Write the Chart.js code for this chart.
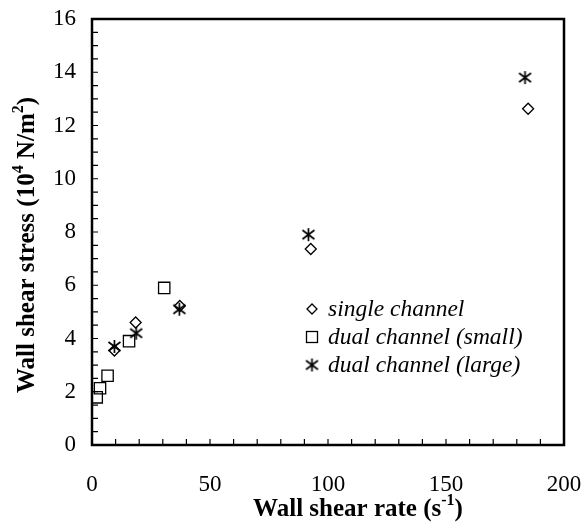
<!DOCTYPE html>
<html>
<head>
<meta charset="utf-8">
<script src="https://cdn.jsdelivr.net/npm/chart.js@4/dist/chart.umd.min.js"></script>
<style>
  html, body { margin: 0; padding: 0; background: #fff; }
  #wrap { width: 583px; height: 524px; }
</style>
</head>
<body>
<div id="wrap"><canvas id="shearChart" width="583" height="524"></canvas></div>
<script>
// data
const seriesNames = ['single channel', 'dual channel (small)', 'dual channel (large)'];
const singleRate = [9.5, 18.5, 37.2, 92.7, 184.8];
const singleStress = [3.55, 4.6, 5.22, 7.36, 12.63];
const smallRate = [2.0, 3.4, 6.6, 15.7, 30.6];
const smallStress = [1.79, 2.13, 2.6, 3.9, 5.9];
const largeRate = [9.5, 18.7, 37.0, 91.7, 183.5];
const largeStress = [3.7, 4.2, 5.1, 7.9, 13.8];
const xTicks = [0, 50, 100, 150, 200];
const yTicks = [0, 2, 4, 6, 8, 10, 12, 14, 16];

const serif = "'Liberation Serif', 'Times New Roman', serif";

// asterisk marker (vertical bar + X), as in the figure
const starMark = (() => {
  const c = document.createElement('canvas');
  c.width = 15; c.height = 15;
  const g = c.getContext('2d');
  g.strokeStyle = '#000';
  g.lineWidth = 1.7;
  g.beginPath();
  g.moveTo(7.5, 1); g.lineTo(7.5, 14);
  g.moveTo(1.5, 3); g.lineTo(13.5, 12);
  g.moveTo(13.5, 3); g.lineTo(1.5, 12);
  g.stroke();
  return c;
})();

const toPoints = (xs, ys) => xs.map((x, i) => ({ x: x, y: ys[i] }));

// superscript-aware text
function drawRich(ctx, parts, cx, cy, size) {
  const big = 'bold ' + size + 'px ' + serif;
  const small = 'bold ' + Math.round(size * 0.62) + 'px ' + serif;
  let total = 0;
  parts.forEach(p => { ctx.font = p.sup ? small : big; total += ctx.measureText(p.t).width; });
  let x = cx - total / 2;
  ctx.textBaseline = 'middle';
  ctx.textAlign = 'left';
  parts.forEach(p => {
    ctx.font = p.sup ? small : big;
    ctx.fillText(p.t, x, p.sup ? cy - size * 0.38 : cy);
    x += ctx.measureText(p.t).width;
  });
}

const framePlugin = {
  id: 'frame',
  afterDraw(chart) {
    const ctx = chart.ctx;
    const a = chart.chartArea;
    const xs = chart.scales.x, ys = chart.scales.y;
    ctx.save();
    ctx.strokeStyle = '#000';
    ctx.fillStyle = '#000';
    ctx.lineWidth = 2.5;
    ctx.strokeRect(a.left, a.top, a.right - a.left, a.bottom - a.top);

    // inward ticks
    ctx.lineWidth = 1.2;
    ctx.beginPath();
    for (let v = 10; v < 200; v += 10) {
      const px = xs.getPixelForValue(v);
      ctx.moveTo(px, a.bottom); ctx.lineTo(px, a.bottom - 6);
    }
    for (let v = 0.5; v < 16; v += 0.5) {
      const py = ys.getPixelForValue(v);
      ctx.moveTo(a.left, py); ctx.lineTo(a.left + 6, py);
    }
    ctx.stroke();

    // axis titles
    drawRich(ctx, [{ t: 'Wall shear rate (s' }, { t: '-1', sup: true }, { t: ')' }], 358, 510, 25);
    ctx.save();
    ctx.translate(28, 245);
    ctx.rotate(-Math.PI / 2);
    drawRich(ctx, [{ t: 'Wall shear stress (10' }, { t: '4', sup: true }, { t: ' N/m' }, { t: '2', sup: true }, { t: ')' }], 0, 0, 25);
    ctx.restore();

    // legend inside the plot
    const lx = 312, ly = [309, 337, 365];
    ctx.font = 'italic 23.5px ' + serif;
    ctx.textBaseline = 'middle';
    ctx.textAlign = 'left';
    ctx.lineWidth = 1.3;
    chart.data.datasets.forEach((ds, i) => {
      const y = ly[i];
      ctx.beginPath();
      if (i === 0) {
        ctx.moveTo(lx - 5, y); ctx.lineTo(lx, y - 5); ctx.lineTo(lx + 5, y); ctx.lineTo(lx, y + 5); ctx.closePath();
        ctx.stroke();
      } else if (i === 1) {
        ctx.strokeRect(lx - 5.5, y - 5.5, 11, 11);
      } else {
        ctx.drawImage(starMark, lx - 7.5, y - 7.5);
      }
      ctx.fillText(ds.label, lx + 16, y + 1);
    });
    ctx.restore();
  }
};

new Chart(document.getElementById('shearChart'), {
  type: 'scatter',
  data: {
    datasets: [
      {
        label: seriesNames[0],
        data: toPoints(singleRate, singleStress),
        pointStyle: 'rectRot',
        pointRadius: 5.5,
        borderColor: '#000',
        borderWidth: 1.3,
        backgroundColor: 'rgba(0,0,0,0)',
      },
      {
        label: seriesNames[1],
        data: toPoints(smallRate, smallStress),
        pointStyle: 'rect',
        pointRadius: 8,
        borderColor: '#000',
        borderWidth: 1.3,
        backgroundColor: 'rgba(0,0,0,0)',
      },
      {
        label: seriesNames[2],
        data: toPoints(largeRate, largeStress),
        pointStyle: starMark,
        borderColor: '#000',
        backgroundColor: '#000',
      },
    ],
  },
  options: {
    responsive: false,
    animation: false,
    events: [],
    layout: { padding: { left: 0, top: 19, right: 19, bottom: 0 } },
    plugins: { legend: { display: false }, tooltip: { enabled: false } },
    scales: {
      x: {
        type: 'linear',
        min: 0,
        max: 200,
        afterFit: s => { s.height = 79; s.paddingLeft = 0; s.paddingRight = 0; },
        afterBuildTicks: s => { s.ticks = xTicks.map(v => ({ value: v })); },
        grid: { display: false, drawTicks: false },
        border: { display: false },
        ticks: { color: '#000', font: { family: serif, size: 23 }, padding: 26, maxRotation: 0 },
      },
      y: {
        type: 'linear',
        min: 0,
        max: 16,
        afterFit: s => { s.width = 92; s.paddingTop = 0; s.paddingBottom = 0; },
        afterBuildTicks: s => { s.ticks = yTicks.map(v => ({ value: v })); },
        grid: { display: false, drawTicks: false },
        border: { display: false },
        ticks: { color: '#000', font: { family: serif, size: 23 }, padding: 16 },
      },
    },
  },
  plugins: [framePlugin],
});
</script>
</body>
</html>
